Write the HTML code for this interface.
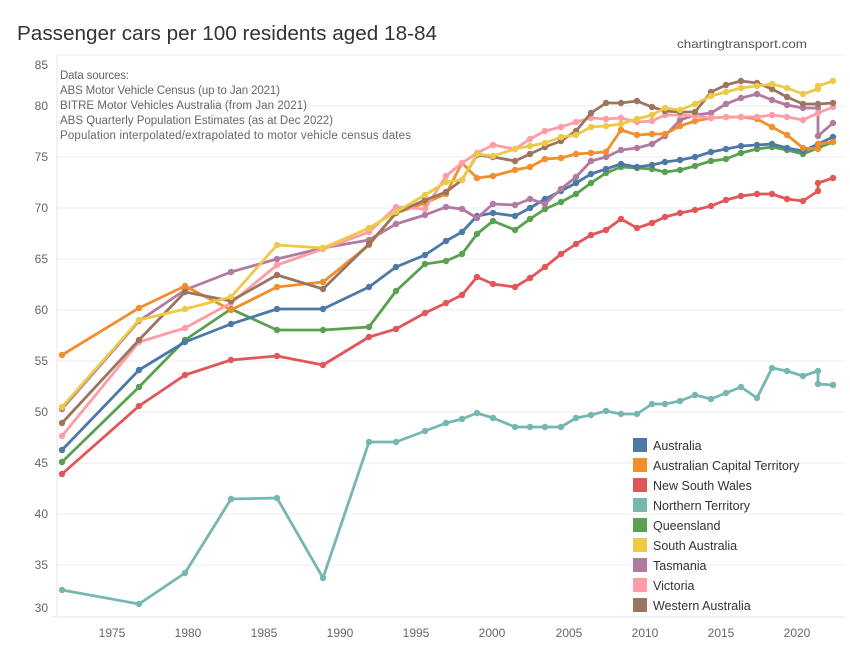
<!DOCTYPE html>
<html><head><meta charset="utf-8"><style>
body{margin:0;background:#fff;}
svg{display:block;font-family:"Liberation Sans",sans-serif;}
</style></head><body>
<svg width="850" height="660" viewBox="0 0 850 660" xmlns="http://www.w3.org/2000/svg">
<defs>
<marker id="m1" markerWidth="8" markerHeight="8" refX="4" refY="4" markerUnits="userSpaceOnUse"><circle cx="4" cy="4" r="3.2" fill="#4e79a7"/></marker>
<marker id="m2" markerWidth="8" markerHeight="8" refX="4" refY="4" markerUnits="userSpaceOnUse"><circle cx="4" cy="4" r="3.2" fill="#f28e2b"/></marker>
<marker id="m3" markerWidth="8" markerHeight="8" refX="4" refY="4" markerUnits="userSpaceOnUse"><circle cx="4" cy="4" r="3.2" fill="#e15759"/></marker>
<marker id="m4" markerWidth="8" markerHeight="8" refX="4" refY="4" markerUnits="userSpaceOnUse"><circle cx="4" cy="4" r="3.2" fill="#76b7b2"/></marker>
<marker id="m5" markerWidth="8" markerHeight="8" refX="4" refY="4" markerUnits="userSpaceOnUse"><circle cx="4" cy="4" r="3.2" fill="#59a14f"/></marker>
<marker id="m6" markerWidth="8" markerHeight="8" refX="4" refY="4" markerUnits="userSpaceOnUse"><circle cx="4" cy="4" r="3.2" fill="#edc948"/></marker>
<marker id="m7" markerWidth="8" markerHeight="8" refX="4" refY="4" markerUnits="userSpaceOnUse"><circle cx="4" cy="4" r="3.2" fill="#b07aa1"/></marker>
<marker id="m8" markerWidth="8" markerHeight="8" refX="4" refY="4" markerUnits="userSpaceOnUse"><circle cx="4" cy="4" r="3.2" fill="#ff9da7"/></marker>
<marker id="m9" markerWidth="8" markerHeight="8" refX="4" refY="4" markerUnits="userSpaceOnUse"><circle cx="4" cy="4" r="3.2" fill="#9c755f"/></marker>
</defs>
<text x="17" y="40" font-size="20" fill="#333" textLength="420" lengthAdjust="spacingAndGlyphs">Passenger cars per 100 residents aged 18-84</text>
<text x="807" y="48" font-size="12" fill="#555" text-anchor="end" textLength="130" lengthAdjust="spacingAndGlyphs">chartingtransport.com</text>

<g stroke="#eeeeee" stroke-width="1">
<line x1="57" x2="845" y1="55" y2="55"/>
<line x1="57" x2="845" y1="106" y2="106"/>
<line x1="57" x2="845" y1="157" y2="157"/>
<line x1="57" x2="845" y1="208" y2="208"/>
<line x1="57" x2="845" y1="259" y2="259"/>
<line x1="57" x2="845" y1="310" y2="310"/>
<line x1="57" x2="845" y1="361" y2="361"/>
<line x1="57" x2="845" y1="412" y2="412"/>
<line x1="57" x2="845" y1="463" y2="463"/>
<line x1="57" x2="845" y1="514" y2="514"/>
<line x1="57" x2="845" y1="565" y2="565"/>
</g>
<line x1="57" x2="57" y1="55" y2="617" stroke="#e6e6e6"/>
<line x1="52" x2="845" y1="617" y2="617" stroke="#e6e6e6"/>
<g font-size="12" fill="#666" text-anchor="end">
<text x="48" y="69">85</text><text x="48" y="110">80</text><text x="48" y="161">75</text>
<text x="48" y="212">70</text><text x="48" y="263">65</text><text x="48" y="314">60</text>
<text x="48" y="365">55</text><text x="48" y="416">50</text><text x="48" y="467">45</text>
<text x="48" y="518">40</text><text x="48" y="569">35</text><text x="48" y="612">30</text>
</g>
<g font-size="12" fill="#666" text-anchor="middle">
<text x="112" y="637">1975</text><text x="188" y="637">1980</text><text x="264" y="637">1985</text>
<text x="340" y="637">1990</text><text x="416" y="637">1995</text><text x="492" y="637">2000</text>
<text x="569" y="637">2005</text><text x="645" y="637">2010</text><text x="721" y="637">2015</text>
<text x="797" y="637">2020</text>
</g>
<g font-size="11.5" fill="#666" lengthAdjust="spacingAndGlyphs">
<text x="60" y="79" textLength="69">Data sources:</text>
<text x="60" y="94" textLength="220">ABS Motor Vehicle Census (up to Jan 2021)</text>
<text x="60" y="109" textLength="247">BITRE Motor Vehicles Australia (from Jan 2021)</text>
<text x="60" y="124" textLength="273">ABS Quarterly Population Estimates (as at Dec 2022)</text>
<text x="60" y="139" textLength="351">Population interpolated/extrapolated to motor vehicle census dates</text>
</g>

<g fill="none" stroke-width="2.8" stroke-linejoin="round">
<polyline stroke="#76b7b2" marker-start="url(#m4)" marker-mid="url(#m4)" marker-end="url(#m4)" points="62,590 139,604 185,573 231,499 277,498 323,578 369,442 396,442 425,431 446,423 462,419 477,413 493,418 515,427 530,427 545,427 561,427 576,418 591,415 606,411 621,414 637,414 652,404 665,404 680,401 695,395 711,399 726,393 741,387 757,398 772,368 787,371 803,376 818,371 818,384 833,385"/>
<polyline stroke="#e15759" marker-start="url(#m3)" marker-mid="url(#m3)" marker-end="url(#m3)" points="62,474 139,406 185,375 231,360 277,356 323,365 369,337 396,329 425,313 446,303 462,295 477,277 493,284 515,287 530,278 545,267 561,254 576,244 591,235 606,230 621,219 637,228 652,223 665,217 680,213 695,210 711,206 726,200 741,196 757,194 772,194 787,199 803,201 818,191 818,183 833,178"/>
<polyline stroke="#59a14f" marker-start="url(#m5)" marker-mid="url(#m5)" marker-end="url(#m5)" points="62,462 139,387 185,340 231,309 277,330 323,330 369,327 396,291 425,264 446,261 462,254 477,234 493,221 515,230 530,219 545,209 561,202 576,194 591,183 606,173 621,167 637,168 652,169 665,172 680,170 695,166 711,161 726,159 741,153 757,149 772,147 787,150 803,154 818,148 833,142"/>
<polyline stroke="#4e79a7" marker-start="url(#m1)" marker-mid="url(#m1)" marker-end="url(#m1)" points="62,450 139,370 185,342 231,324 277,309 323,309 369,287 396,267 425,255 446,241 462,232 477,216 493,213 515,216 530,208 545,199 561,191 576,183 591,174 606,169 621,164 637,167 652,165 665,162 680,160 695,157 711,152 726,149 741,146 757,145 772,144 787,148 803,151 818,144 833,137"/>
<polyline stroke="#b07aa1" marker-start="url(#m7)" marker-mid="url(#m7)" marker-end="url(#m7)" points="62,409 139,321 185,290 231,272 277,259 323,248 369,240 396,224 425,215 446,207 462,209 477,218 493,204 515,205 530,199 545,204 561,189 576,177 591,161 606,157 621,150 637,148 652,144 665,136 680,120 695,115 711,113 726,104 741,98 757,94 772,100 787,105 803,108 818,108 818,136 833,123"/>
<polyline stroke="#f28e2b" marker-start="url(#m2)" marker-mid="url(#m2)" marker-end="url(#m2)" points="62,355 139,308 185,286 231,310 277,287 323,282 369,245 396,213 425,203 446,194 462,163 477,178 493,176 515,170 530,167 545,159 561,158 576,154 591,153 606,152 621,130 637,135 652,134 665,134 680,126 695,121 711,118 726,117 741,117 757,119 772,127 787,135 803,148 818,149 818,144 833,142"/>
<polyline stroke="#ff9da7" marker-start="url(#m8)" marker-mid="url(#m8)" marker-end="url(#m8)" points="62,436 139,342 185,328 231,303 277,265 323,249 369,232 396,207 425,209 446,176 462,163 477,153 493,145 515,149 530,139 545,131 561,127 576,122 591,118 606,119 621,118 637,122 652,121 665,115 680,115 695,116 711,118 726,117 741,117 757,117 772,115 787,117 803,120 818,113 833,107"/>
<polyline stroke="#9c755f" marker-start="url(#m9)" marker-mid="url(#m9)" marker-end="url(#m9)" points="62,423 139,340 185,292 231,301 277,275 323,289 369,244 396,213 425,200 446,192 462,180 477,155 493,157 515,161 530,154 545,147 561,141 576,131 591,113 606,103 621,103 637,101 652,107 665,111 680,112 695,112 711,92 726,85 741,81 757,83 772,89 787,97 803,104 818,104 833,103"/>
<polyline stroke="#edc948" marker-start="url(#m6)" marker-mid="url(#m6)" marker-end="url(#m6)" points="62,407 139,320 185,309 231,297 277,245 323,248 369,228 396,212 425,195 446,182 462,180 477,154 493,156 515,149 530,146 545,143 561,137 576,135 591,127 606,126 621,124 637,119 652,115 665,108 680,110 695,104 711,96 726,92 741,88 757,86 772,84 787,88 803,94 818,89 818,86 833,81"/>
</g>

<g font-size="12.5" fill="#333">
<rect x="633" y="438" width="14" height="14" fill="#4e79a7"/><text x="653" y="450">Australia</text>
<rect x="633" y="458" width="14" height="14" fill="#f28e2b"/><text x="653" y="470">Australian Capital Territory</text>
<rect x="633" y="478" width="14" height="14" fill="#e15759"/><text x="653" y="490">New South Wales</text>
<rect x="633" y="498" width="14" height="14" fill="#76b7b2"/><text x="653" y="510">Northern Territory</text>
<rect x="633" y="518" width="14" height="14" fill="#59a14f"/><text x="653" y="530">Queensland</text>
<rect x="633" y="538" width="14" height="14" fill="#edc948"/><text x="653" y="550">South Australia</text>
<rect x="633" y="558" width="14" height="14" fill="#b07aa1"/><text x="653" y="570">Tasmania</text>
<rect x="633" y="578" width="14" height="14" fill="#ff9da7"/><text x="653" y="590">Victoria</text>
<rect x="633" y="598" width="14" height="14" fill="#9c755f"/><text x="653" y="610">Western Australia</text>
</g>
</svg>
</body></html>
